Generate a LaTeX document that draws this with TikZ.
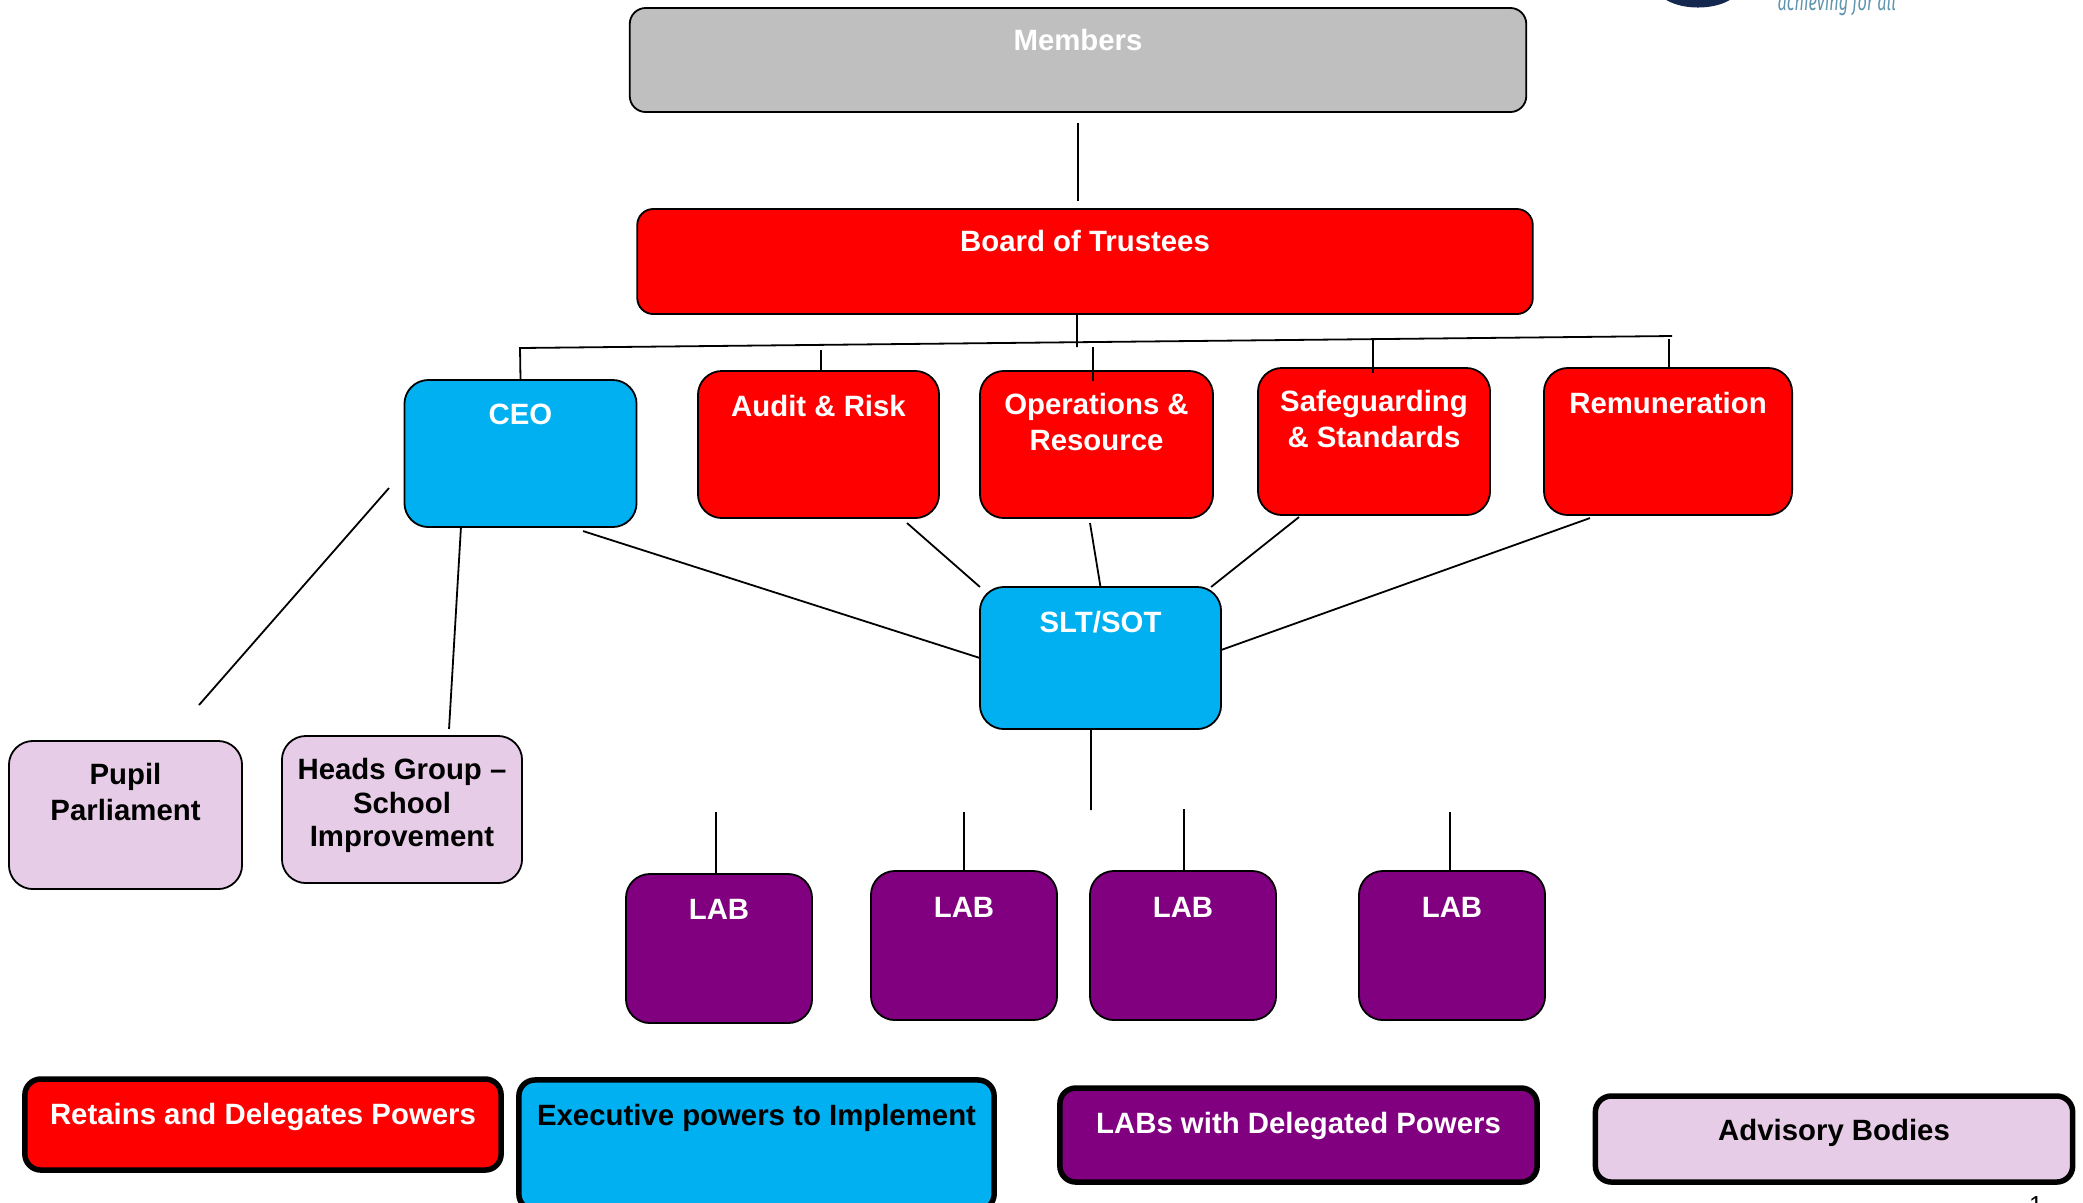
\documentclass[tikz,border=0pt]{standalone}
\usepackage{fontspec}
\setmainfont{Liberation Sans}
\newfontfamily\logofont[FakeStretch=0.66]{Fira Sans}
\usepackage{tikz}
\usetikzlibrary{shapes.geometric,positioning}
\definecolor{trustred}{HTML}{FF0000}
\definecolor{execblue}{HTML}{00B0F0}
\definecolor{labpurple}{HTML}{800080}
\definecolor{advisory}{HTML}{E6CCE6}
\definecolor{membergrey}{HTML}{BFBFBF}
\definecolor{logonavy}{HTML}{14274E}
\definecolor{logotext}{HTML}{5F95AE}
\tikzset
{
	orgbox/.style = {rectangle, draw=black, line width=0.018cm, rounded corners=0.24cm, outer sep=0pt, inner sep=0pt},
	boxsize/.style 2 args = {minimum width=#1cm, minimum height=#2cm},
	keybox/.style = {orgbox, line width=0.055cm, rounded corners=0.16cm},
	boxlabel/.style = {anchor=north, align=center, inner sep=0pt, text=white, yshift=-0.235cm, font=\fontsize{8.35}{10.2}\selectfont\bfseries},
	darklabel/.style = {boxlabel, text=black},
	link/.style = {draw=black, line width=0.018cm},
}

\begin{document}
\begin{tikzpicture}[x=0.01cm, y=-0.01cm]
	\useasboundingbox (0,0) rectangle (2083,1202);
	\clip (0,0) rectangle (2083,1202);
	% logo cut off by the page edge
	\node[ellipse, fill=logonavy, minimum width=0.85cm, minimum height=0.45cm, inner sep=0pt] (logo) at (1698,-15) {};
	\node[anchor=base west, inner sep=0pt, text=logotext, font=\logofont\itshape\fontsize{7}{9}\selectfont] (motto) at (1777,10) {achieving for all};
	\node[anchor=north, inner sep=0pt, font=\fontsize{7}{8}\selectfont] (pagenum) at (2036,1196) {1};

	\node[orgbox, fill=membergrey, boxsize={8.96}{1.04}, rounded corners=0.16cm, label={[boxlabel, yshift=0.03cm]90:Members}] (members) at (1078,60) {};
	\node[orgbox, fill=trustred, boxsize={8.95}{1.05}, rounded corners=0.16cm, label={[boxlabel, yshift=0.025cm]90:Board of Trustees}] (board) at (1085,261.5) {};

	\node[orgbox, fill=execblue, boxsize={2.32}{1.47}, label={[boxlabel]90:CEO}] (ceo) at (520.5,453.5) {};
	\node[orgbox, fill=trustred, boxsize={2.41}{1.47}, label={[boxlabel]90:Audit \& Risk}] (audit) at (818.5,444.5) {};
	\node[orgbox, fill=trustred, boxsize={2.33}{1.47}, label={[boxlabel, yshift=0.02cm]90:Operations \&\\Resource}] (ops) at (1096.5,444.5) {};
	\node[orgbox, fill=trustred, boxsize={2.32}{1.47}, label={[boxlabel, yshift=0.02cm]90:Safeguarding\\\& Standards}] (safe) at (1374,441.5) {};
	\node[orgbox, fill=trustred, boxsize={2.48}{1.47}, label={[boxlabel]90:Remuneration}] (remun) at (1668,441.5) {};

	\node[orgbox, fill=execblue, boxsize={2.41}{1.42}, label={[boxlabel]90:SLT/SOT}] (slt) at (1100.5,658) {};

	\node[orgbox, fill=advisory, boxsize={2.33}{1.48}, label={[darklabel, yshift=0.02cm]90:Pupil\\Parliament}] (pupil) at (125.5,815) {};
	\node[orgbox, fill=advisory, boxsize={2.40}{1.47}, label={[darklabel, yshift=0.015cm]90:Heads Group --\\[-0.7pt]School\\[-0.7pt]Improvement}] (heads) at (402,809.5) {};

	\node[orgbox, fill=labpurple, boxsize={1.86}{1.49}, label={[boxlabel, yshift=-0.015cm]90:LAB}] (laba) at (719,948.5) {};
	\node[orgbox, fill=labpurple, boxsize={1.86}{1.49}, label={[boxlabel, yshift=-0.025cm]90:LAB}] (labb) at (964,945.5) {};
	\node[orgbox, fill=labpurple, boxsize={1.86}{1.49}, label={[boxlabel, yshift=-0.025cm]90:LAB}] (labc) at (1183,945.5) {};
	\node[orgbox, fill=labpurple, boxsize={1.86}{1.49}, label={[boxlabel, yshift=-0.025cm]90:LAB}] (labd) at (1452,945.5) {};

	\node[keybox, fill=trustred, boxsize={4.76}{0.91}, label={[boxlabel]90:Retains and Delegates Powers}] (keyred) at (263,1124.5) {};
	\node[keybox, fill=execblue, boxsize={4.75}{1.30}, label={[darklabel]90:Executive powers to Implement}] (keyblue) at (756.5,1145) {};
	\node[keybox, fill=labpurple, boxsize={4.77}{0.94}, label={[boxlabel]90:LABs with Delegated Powers}] (keypurple) at (1298.5,1135) {};
	\node[keybox, fill=advisory, boxsize={4.77}{0.86}, label={[darklabel, yshift=0.01cm]90:Advisory Bodies}] (keyadvisory) at (1834,1139) {};

	\coordinate (barleft) at (520,348);
	\coordinate (barright) at (1672,336);
	\coordinate (boardfoot) at (1077,347);
	\coordinate (audithead) at (821,350);
	\coordinate (opshead) at (1093,347);
	\coordinate (safehead) at (1373,340);
	\coordinate (remunhead) at (1669,339);
	\coordinate (ceoleft) at (389,488);
	\coordinate (pupilhead) at (199,705);
	\coordinate (sltfoot) at (1091,810);
	\coordinate (labahead) at (716,812);
	\coordinate (labbhead) at (964,812);
	\coordinate (labchead) at (1184,809);
	\coordinate (labdhead) at (1450,812);

	\draw[link, shorten <=0.11cm, shorten >=0.08cm] (members.south) -- ([xshift=-0.07cm]board.north);
	\draw[link] ([xshift=-0.08cm]board.south) -- (boardfoot);
	\draw[link] (ceo.north) -- (barleft) -- (barright);
	\draw[link] (audithead) -- ([xshift=0.025cm]audit.north);
	\draw[link] (opshead) -- ([xshift=-0.035cm, yshift=-0.1cm]ops.north);
	\draw[link] (safehead) -- ([xshift=-0.01cm, yshift=-0.05cm]safe.north);
	\draw[link] (remunhead) -- ([xshift=0.01cm]remun.north);

	\draw[link] (ceoleft) -- (pupilhead);
	\draw[link] ([xshift=-0.595cm]ceo.south) -- ([xshift=0.47cm, yshift=0.07cm]heads.north);
	\draw[link] ([xshift=0.625cm, yshift=-0.04cm]ceo.south) -- (slt.west);
	\draw[link] ([xshift=0.885cm, yshift=-0.05cm]audit.south) -- (slt.north west);
	\draw[link] ([xshift=-0.065cm, yshift=-0.05cm]ops.south) -- (slt.north);
	\draw[link] ([xshift=-0.75cm, yshift=-0.02cm]safe.south) -- ([xshift=-0.1cm]slt.north east);
	\draw[link] ([xshift=-0.78cm, yshift=-0.03cm]remun.south) -- ([yshift=0.08cm]slt.east);

	\draw[link] ([xshift=-0.095cm]slt.south) -- (sltfoot);
	\draw[link] (labahead) -- ([xshift=-0.03cm]laba.north);
	\draw[link] (labbhead) -- (labb.north);
	\draw[link] (labchead) -- ([xshift=0.01cm]labc.north);
	\draw[link] (labdhead) -- ([xshift=-0.02cm]labd.north);
\end{tikzpicture}
\end{document}
